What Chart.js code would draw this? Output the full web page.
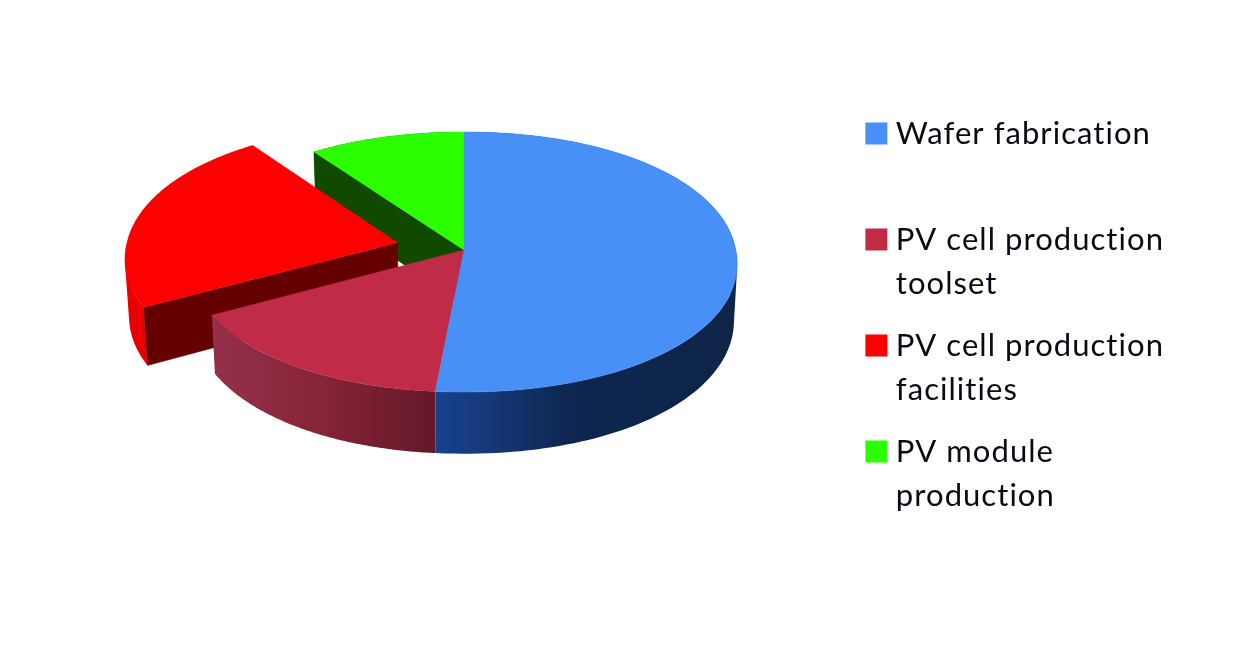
<!DOCTYPE html>
<html>
<head>
<meta charset="utf-8">
<style>html,body{margin:0;padding:0;background:#fff}canvas{display:block}</style>
<script src="https://cdn.jsdelivr.net/npm/chart.js@4"></script>
</head>
<body>
<canvas id="c" width="1246" height="653"></canvas>
<script>
const categories = [["Wafer fabrication",""],["PV cell production","toolset"],["PV cell production","facilities"],["PV module","production"]];
const shares = [51.4,15.8,22.9,9.9];
const explode = [0,0,69,0];
const topColors = ["#4890f5","#c02c48","#ff0000","#2cff00"];
const radialColors = [null,null,"#640000","#0f4a00"];
const rimStops = [
  [[437,"#17418f"],[480,"#163a7c"],[570,"#0e2650"],[737,"#0e2548"]],
  [[212,"#95304a"],[320,"#872438"],[437,"#631828"]],
  [[120,"#e80000"],[150,"#e80000"]],
  [[300,"#0f4a00"],[464,"#0f4a00"]]
];
const drawOrder = [3,2,1,0];

// Perspective view of the pie's disc
const view = {cx:464, cy:250, c:271.8, a:128.9, b:0.0923, depth:56, converge:0.012, round:0.965};
function project(u,v,z){
  const w = 1 - view.b*v;
  return [view.cx + view.c*u/w*(1 - view.converge*z), view.cy + view.a*v/w + z*view.depth/w];
}
function edge(t){
  const c=Math.cos(t), s=Math.sin(t);
  return [Math.sign(c)*Math.pow(Math.abs(c),view.round), Math.sign(s)*Math.pow(Math.abs(s),view.round)];
}
function geometry(arc){
  const p = arc.getProps(['startAngle','endAngle','outerRadius']);
  const mid = (p.startAngle+p.endAngle)/2, off = (arc.options.offset||0)/p.outerRadius;
  return {s:p.startAngle, e:p.endAngle, ox:off*Math.cos(mid), oy:off*Math.sin(mid)};
}
function rim(g,z){
  const pts=[], n=120;
  for(let i=0;i<=n;i++){
    const k=edge(g.s+(g.e-g.s)*i/n);
    pts.push(project(g.ox+k[0], g.oy+k[1], z));
  }
  return pts;
}
function fillPoly(ctx,pts,style){
  ctx.beginPath();
  pts.forEach((p,i)=> i?ctx.lineTo(p[0],p[1]):ctx.moveTo(p[0],p[1]));
  ctx.closePath(); ctx.fillStyle=style; ctx.fill();
  ctx.strokeStyle=style; ctx.lineWidth=0.5; ctx.stroke();
}
function signedArea(q){
  let a=0;
  q.forEach((p,i)=>{const r=q[(i+1)%q.length]; a+=p[0]*r[1]-r[0]*p[1];});
  return a;
}
function fillStrip(ctx,up,down,style){
  ctx.beginPath();
  for(let j=0;j<up.length-1;j++){
    let q=[up[j],up[j+1],down[j+1],down[j]];
    if(signedArea(q)<0) q=q.reverse();
    q.forEach((p,i)=> i?ctx.lineTo(p[0],p[1]):ctx.moveTo(p[0],p[1]));
    ctx.closePath();
  }
  ctx.fillStyle=style; ctx.fill();
}
function textSpacing(chart){ chart.ctx.letterSpacing='1.05px'; }
const pie3d = {
  id:'pie3d',
  beforeLayout: textSpacing,
  beforeDraw: textSpacing,
  beforeDatasetsDraw(chart){
    const ctx=chart.ctx, arcs=chart.getDatasetMeta(0).data;
    ctx.save();
    drawOrder.forEach(i=>{
      const g=geometry(arcs[i]);
      const st=rimStops[i], x0=st[0][0], x1=st[st.length-1][0];
      const grad=ctx.createLinearGradient(x0,0,x1,0);
      st.forEach(s=>grad.addColorStop((s[0]-x0)/(x1-x0),s[1]));
      fillStrip(ctx,rim(g,0),rim(g,1),grad);
      if(radialColors[i]){
        const a=project(g.ox,g.oy,0), b=project(g.ox,g.oy,1), k=edge(g.s);
        const ax=g.ox+k[0], ay=g.oy+k[1];
        fillPoly(ctx,[a,project(ax,ay,0),project(ax,ay,1),b],radialColors[i]);
      }
    });
    drawOrder.forEach(i=>{
      const g=geometry(arcs[i]);
      fillPoly(ctx,[project(g.ox,g.oy,0)].concat(rim(g,0)),arcs[i].options.backgroundColor);
    });
    ctx.restore();
    return false;
  }
};
new Chart(document.getElementById('c'),{
  type:'pie',
  data:{labels:categories,datasets:[{data:shares,backgroundColor:topColors,offset:explode,borderWidth:0,clip:false}]},
  options:{
    responsive:false, animation:false, events:[], radius:273, devicePixelRatio:1,
    layout:{padding:{top:100,right:72,bottom:100,left:0}},
    plugins:{
      tooltip:{enabled:false},
      legend:{
        position:'right', align:'start',
        labels:{
          color:'#0a0a14', boxWidth:8, boxHeight:8, padding:18,
          font:{family:'Lato',size:31,lineHeight:1.42},
          generateLabels(chart){
            return Chart.overrides.pie.plugins.legend.labels.generateLabels(chart).map(item=>
              Object.assign(item,{lineWidth:14,strokeStyle:item.fillStyle,lineJoin:'miter'}));
          }
        }
      }
    }
  },
  plugins:[pie3d]
});
</script>
</body>
</html>
